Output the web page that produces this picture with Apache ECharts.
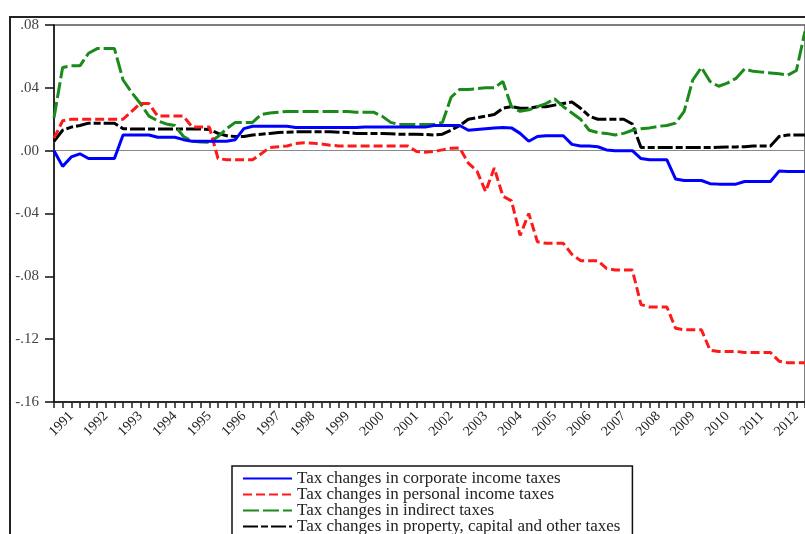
<!DOCTYPE html>
<html>
<head>
<meta charset="utf-8">
<script src="https://cdn.jsdelivr.net/npm/echarts@6/dist/echarts.min.js"></script>
<style>
html,body{margin:0;padding:0;background:#fff;}
#chart{width:805px;height:534px;}
</style>
</head>
<body>
<div id="chart"></div>
<script>
// Quarterly categories 1991Q1 .. 2012Q4
var years = [];
for (var y = 1991; y <= 2012; y++) years.push(y);
var quarters = [];
years.forEach(function (yr) { for (var q = 1; q <= 4; q++) quarters.push(yr + 'Q' + q); });

var seriesNames = [
  'Tax changes in corporate income taxes',
  'Tax changes in personal income taxes',
  'Tax changes in indirect taxes',
  'Tax changes in property, capital and other taxes'
];

var corporate = [
  0.000, -0.010, -0.004, -0.002, -0.005, -0.005, -0.005, -0.005,
  0.010, 0.010, 0.010, 0.010, 0.0085, 0.0085, 0.0085, 0.007,
  0.006, 0.006, 0.006, 0.006, 0.006, 0.007, 0.014, 0.0155,
  0.0155, 0.0155, 0.0155, 0.0155, 0.0148, 0.0148, 0.0148, 0.0148,
  0.0148, 0.0148, 0.0148, 0.0148, 0.015, 0.015, 0.015, 0.015,
  0.015, 0.015, 0.015, 0.015, 0.016, 0.016, 0.016, 0.016,
  0.013, 0.0135, 0.014, 0.0145, 0.0148, 0.0145, 0.011, 0.006,
  0.009, 0.0095, 0.0095, 0.0095, 0.004, 0.003, 0.003, 0.0025,
  0.0005, 0.000, 0.000, 0.000, -0.005, -0.0058, -0.0058, -0.0058,
  -0.018, -0.019, -0.019, -0.019, -0.021, -0.0213, -0.0213, -0.0213,
  -0.0196, -0.0196, -0.0196, -0.0196, -0.013, -0.0132, -0.0132, -0.0132
];

var personal = [
  0.008, 0.019, 0.020, 0.020, 0.020, 0.020, 0.020, 0.020,
  0.020, 0.025, 0.030, 0.030, 0.022, 0.022, 0.022, 0.022,
  0.015, 0.015, 0.015, -0.005, -0.0058, -0.0058, -0.0058, -0.0058,
  -0.002, 0.002, 0.0025, 0.003, 0.0045, 0.005, 0.0048, 0.0042,
  0.0035, 0.003, 0.003, 0.003, 0.003, 0.003, 0.003, 0.003,
  0.003, 0.003, -0.0005, -0.001, -0.0005, 0.0005, 0.0015, 0.0017,
  -0.008, -0.013, -0.026, -0.011, -0.029, -0.032, -0.054, -0.040,
  -0.058, -0.059, -0.059, -0.059, -0.066, -0.070, -0.070, -0.070,
  -0.075, -0.076, -0.076, -0.076, -0.098, -0.0995, -0.0995, -0.0995,
  -0.113, -0.114, -0.114, -0.114, -0.127, -0.1278, -0.1278, -0.1278,
  -0.1285, -0.1285, -0.1285, -0.1285, -0.134, -0.135, -0.135, -0.135
];

var indirect = [
  0.021, 0.053, 0.054, 0.054, 0.062, 0.065, 0.065, 0.065,
  0.045, 0.037, 0.030, 0.022, 0.019, 0.017, 0.016, 0.009,
  0.006, 0.0055, 0.0053, 0.009, 0.014, 0.018, 0.018, 0.018,
  0.023, 0.024, 0.0245, 0.025, 0.025, 0.025, 0.025, 0.025,
  0.025, 0.025, 0.025, 0.0245, 0.0245, 0.0245, 0.022, 0.018,
  0.0166, 0.0166, 0.0166, 0.0166, 0.0166, 0.018, 0.034, 0.039,
  0.039, 0.0395, 0.040, 0.040, 0.044, 0.028, 0.025, 0.026,
  0.028, 0.030, 0.033, 0.028, 0.024, 0.020, 0.013, 0.0115,
  0.011, 0.010, 0.011, 0.013, 0.014, 0.0145, 0.0155, 0.016,
  0.0175, 0.025, 0.045, 0.053, 0.044, 0.041, 0.043, 0.046,
  0.052, 0.0505, 0.050, 0.0495, 0.049, 0.048, 0.051, 0.076
];

var property = [
  0.006, 0.013, 0.015, 0.016, 0.0175, 0.0175, 0.0175, 0.0175,
  0.014, 0.0138, 0.0138, 0.0138, 0.0138, 0.0138, 0.0138, 0.0138,
  0.0138, 0.0138, 0.0135, 0.011, 0.0095, 0.009, 0.009, 0.010,
  0.0105, 0.011, 0.0115, 0.0118, 0.012, 0.012, 0.012, 0.012,
  0.012, 0.0118, 0.0115, 0.011, 0.011, 0.011, 0.011, 0.0108,
  0.0105, 0.0105, 0.0105, 0.0103, 0.010, 0.0105, 0.013, 0.016,
  0.020, 0.021, 0.022, 0.023, 0.027, 0.028, 0.027, 0.027,
  0.028, 0.028, 0.029, 0.030, 0.031, 0.027, 0.022, 0.020,
  0.020, 0.020, 0.020, 0.017, 0.002, 0.002, 0.002, 0.002,
  0.002, 0.002, 0.002, 0.002, 0.002, 0.0022, 0.0024, 0.0024,
  0.0025, 0.003, 0.003, 0.003, 0.009, 0.010, 0.010, 0.010
];

var yTicks = { min: -0.16, max: 0.08, interval: 0.04 };
var colors = ['#0000ff', '#ff1a1a', '#1a8a1a', '#000000'];
var dashes = ['solid', [9, 4], [16, 4], [15, 3, 7, 3]];
var values = [corporate, personal, indirect, property];

function fmtY(v) {
  var n = Math.round(Math.abs(v) * 100);
  var s = '.' + (n < 10 ? '0' + n : '' + n);
  return (v < -1e-9 ? '-' : '') + s;
}

var chart = echarts.init(document.getElementById('chart'), null, { renderer: 'canvas' });
var FONT = 'Liberation Serif';

var series = values.map(function (arr, k) {
  var s = {
    name: seriesNames[k],
    type: 'line',
    data: arr,
    symbol: 'none',
    smooth: false,
    z: 10 - k,
    lineStyle: { color: colors[k], width: 3, type: dashes[k] },
    itemStyle: { color: colors[k] },
    emphasis: { disabled: true },
    animation: false
  };
  if (k === 0) {
    s.markLine = {
      silent: true,
      symbol: 'none',
      label: { show: false },
      lineStyle: { color: '#8a8a8a', width: 1, type: 'solid' },
      data: [{ yAxis: 0 }],
      z: 1
    };
  }
  return s;
});

chart.setOption({
  backgroundColor: '#ffffff',
  animation: false,
  graphic: [{
    type: 'rect',
    shape: { x: 10, y: 17, width: 820, height: 540 },
    style: { fill: 'none', stroke: '#222', lineWidth: 2 },
    silent: true,
    z: 0
  }],
  grid: {
    left: 54, top: 25, width: 752, height: 377,
    show: true, borderColor: '#555', borderWidth: 1.5, backgroundColor: 'transparent'
  },
  legend: {
    orient: 'vertical',
    left: 232, top: 466, height: 120,
    itemWidth: 49, itemHeight: 12, itemGap: -1,
    padding: [4, 12, 6, 10],
    borderColor: '#111', borderWidth: 1.5,
    backgroundColor: '#fff',
    itemStyle: { opacity: 0 },
    textStyle: { fontFamily: FONT, fontSize: 17, color: '#222', lineHeight: 14 },
    data: seriesNames
  },
  xAxis: {
    type: 'category',
    data: quarters,
    boundaryGap: false,
    axisLine: { show: true, onZero: false, lineStyle: { color: '#111', width: 1.5 } },
    axisTick: { show: true, interval: 0, length: 6, inside: false, lineStyle: { color: '#222', width: 1.5 } },
    axisLabel: {
      interval: function (idx) { return idx % 4 === 2; },
      formatter: function (v) { return v.slice(0, 4); },
      rotate: 45, margin: 12,
      fontFamily: FONT, fontSize: 14, color: '#222'
    },
    splitLine: { show: false }
  },
  yAxis: {
    type: 'value',
    min: yTicks.min, max: yTicks.max, interval: yTicks.interval,
    axisLine: { show: true, lineStyle: { color: '#111', width: 1.5 } },
    axisTick: { show: true, length: 9, inside: false, lineStyle: { color: '#111', width: 1.5 } },
    axisLabel: { formatter: fmtY, margin: 15, fontFamily: FONT, fontSize: 15, color: '#444' },
    splitLine: { show: false }
  },
  series: series
});
</script>
</body>
</html>
